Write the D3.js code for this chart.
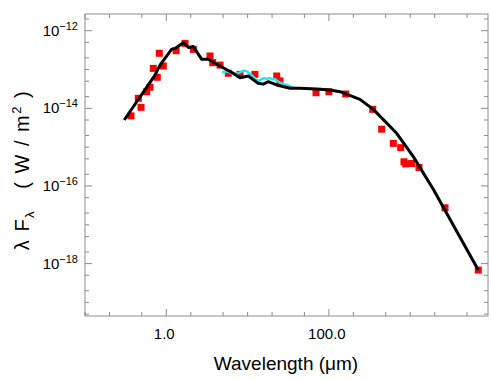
<!DOCTYPE html>
<html>
<head>
<meta charset="utf-8">
<script src="https://cdn.jsdelivr.net/npm/d3@7"></script>
<style>
  body { margin: 0; background: #fff; }
  text { font-family: "Liberation Sans", Arial, sans-serif; }
</style>
</head>
<body>
<svg id="chart" width="491" height="380"></svg>
<script>
// ---------------- data ----------------
// model SED (black line)
const modelWave = [0.304, 0.726, 0.837, 1.16, 1.28, 1.62, 1.87, 2.15, 2.73, 3.29, 3.97, 4.58,
  6.67, 8.07, 10.2, 13.5, 15.6, 18.0, 22.8, 33.2, 44.1, 70.8, 103, 137, 241, 352, 682, 1092, 1923, 6880];
const modelFlux = [5.0e-15, 7.2e-14, 1.3e-13, 3.3e-13, 3.5e-13, 4.9e-13, 3.7e-13, 3.9e-13, 1.83e-13, 1.83e-13, 1.45e-13, 1.23e-13,
  8.0e-14, 6.15e-14, 6.8e-14, 4.4e-14, 4.2e-14, 4.85e-14, 4.0e-14, 3.3e-14, 3.3e-14, 3.15e-14, 2.96e-14, 2.68e-14, 1.7e-14, 9.4e-15, 2.27e-15, 5.7e-16, 8.2e-17, 6.8e-19];

// photometry (red squares)
const photWave = [0.368, 0.489, 0.453, 0.574, 0.63, 0.775, 0.692, 0.918, 0.82, 1.32, 1.70, 2.15, 3.45, 3.72, 4.58,
  5.79, 8.07, 12.3, 22.8, 25.0, 69.4, 100, 161, 346, 446, 620, 764, 839, 881, 1043, 1283, 2680, 6880];
const photFlux = [6.4e-15, 1.06e-14, 1.81e-14, 2.68e-14, 3.5e-14, 6.3e-14, 1.07e-13, 1.23e-13, 2.62e-13, 3.05e-13, 4.7e-13, 3.3e-13, 2.23e-13, 1.5e-13, 1.3e-13,
  8.0e-14, 7.5e-14, 7.5e-14, 6.8e-14, 5.1e-14, 2.52e-14, 2.68e-14, 2.34e-14, 9.4e-15, 2.9e-15, 1.25e-15, 9.7e-16, 4.2e-16, 3.7e-16, 3.8e-16, 3.0e-16, 2.74e-17, 6.8e-19];

// IR spectrum (cyan)
const specWave = [4.84, 5.2, 5.53, 6.2, 7.0, 7.5, 8.07, 9.0, 9.75, 10.5, 11.3, 12.4, 13.5, 14.6, 15.9, 17.0, 18.8, 20.0, 21.7, 23.5, 25.0, 28.0, 31.4, 34.0, 37.2];
const specFlux = [8.9e-14, 8.3e-14, 9.0e-14, 8.2e-14, 7.3e-14, 7.9e-14, 8.4e-14, 9.4e-14, 9.0e-14, 8.0e-14, 7.0e-14, 5.8e-14, 5.0e-14, 5.5e-14, 6.0e-14, 5.7e-14, 6.0e-14, 5.6e-14, 5.7e-14, 5.0e-14, 4.6e-14, 4.2e-14, 3.9e-14, 3.6e-14, 3.4e-14];

// axis ticks
const xMajor = [1, 100];
const xMajorLabels = ["1.0", "100.0"];
const yMajorExp = [-12, -14, -16, -18];

// ---------------- layout ----------------
const svg = d3.select("#chart");
const plotLeft = 85, plotRight = 488, plotTop = 14, plotBottom = 316;
const axisColor = "#8c8c8c";

const x = d3.scaleLog().domain([0.1, 9060]).range([plotLeft, plotRight]);
const y = d3.scaleLog().domain([Math.pow(10, -19.35), Math.pow(10, -11.57)]).range([plotBottom, plotTop]);

// minor ticks: 1, 2, 5 per decade
function decadeTicks(lo, hi) {
  const out = [];
  for (let e = Math.floor(Math.log10(lo)); e <= Math.ceil(Math.log10(hi)); e++) {
    [1, 2, 5].forEach(m => {
      const v = m * Math.pow(10, e);
      if (v >= lo && v <= hi) out.push(v);
    });
  }
  return out;
}
const xTicks = decadeTicks(0.1, 9060);
const yTicks = decadeTicks(Math.pow(10, -19.35), Math.pow(10, -11.57));

const isXMajor = v => xMajor.some(m => Math.abs(v / m - 1) < 1e-6);
const isYMajor = v => yMajorExp.some(e => Math.abs(Math.log10(v) - e) < 1e-6);

const tickG = svg.append("g").attr("stroke", axisColor).attr("stroke-width", 1);
xTicks.forEach(v => {
  const len = isXMajor(v) ? 7 : 4;
  const px = x(v);
  tickG.append("line").attr("x1", px).attr("x2", px).attr("y1", plotBottom).attr("y2", plotBottom - len);
  tickG.append("line").attr("x1", px).attr("x2", px).attr("y1", plotTop).attr("y2", plotTop + len);
});
yTicks.forEach(v => {
  const len = isYMajor(v) ? 7 : 4;
  const py = y(v);
  tickG.append("line").attr("y1", py).attr("y2", py).attr("x1", plotLeft).attr("x2", plotLeft + len);
  tickG.append("line").attr("y1", py).attr("y2", py).attr("x1", plotRight).attr("x2", plotRight - len);
});

// frame
svg.append("rect")
  .attr("x", plotLeft).attr("y", plotTop)
  .attr("width", plotRight - plotLeft).attr("height", plotBottom - plotTop)
  .attr("fill", "none").attr("stroke", axisColor).attr("stroke-width", 1);

// x tick labels
xMajor.forEach((v, i) => {
  svg.append("text")
    .attr("x", x(v) - 2).attr("y", 339)
    .attr("text-anchor", "middle")
    .attr("font-size", 15)
    .text(xMajorLabels[i]);
});

// y tick labels
yMajorExp.forEach(e => {
  const t = svg.append("text")
    .attr("x", 78).attr("y", y(Math.pow(10, e)) + 5)
    .attr("text-anchor", "end")
    .attr("font-size", 15);
  t.append("tspan").text("10");
  t.append("tspan").attr("dy", -6).attr("font-size", 11).text("\u2212" + Math.abs(e));
});

// axis titles
svg.append("text")
  .attr("x", 286).attr("y", 370)
  .attr("text-anchor", "middle")
  .attr("font-size", 19)
  .text("Wavelength (\u03bcm)");

const yt = svg.append("text")
  .attr("transform", "translate(29," + 170 + ") rotate(-90)")
  .attr("text-anchor", "middle")
  .attr("font-size", 20)
  .attr("letter-spacing", 1.5)
  .style("white-space", "pre");
yt.append("tspan").text("\u03bb F");
yt.append("tspan").attr("dy", 5).attr("font-size", 13).text("\u03bb");
yt.append("tspan").attr("dy", -5).text("   ( W / m");
yt.append("tspan").attr("dy", -8).attr("font-size", 13).text("2");
yt.append("tspan").attr("dy", 8).text(" )");

// ---------------- marks ----------------
const line = d3.line().x(d => x(d[0])).y(d => y(d[1]));

// red photometry squares
const sq = 7;
svg.append("g").selectAll("rect")
  .data(d3.zip(photWave, photFlux))
  .join("rect")
  .attr("x", d => x(d[0]) - sq / 2)
  .attr("y", d => y(d[1]) - sq / 2)
  .attr("width", sq).attr("height", sq)
  .attr("fill", "#ff0000");

// cyan spectrum
svg.append("path")
  .datum(d3.zip(specWave, specFlux))
  .attr("d", line)
  .attr("fill", "none")
  .attr("stroke", "#20e8f0")
  .attr("stroke-width", 2.5);

// black model line
svg.append("path")
  .datum(d3.zip(modelWave, modelFlux))
  .attr("d", line)
  .attr("fill", "none")
  .attr("stroke", "#000")
  .attr("stroke-width", 3)
  .attr("stroke-linejoin", "round");
</script>
</body>
</html>
